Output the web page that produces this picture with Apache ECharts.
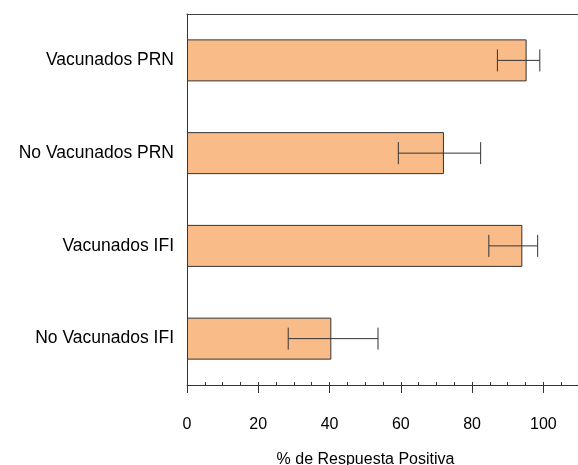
<!DOCTYPE html>
<html>
<head>
<meta charset="utf-8">
<script src="https://cdn.jsdelivr.net/npm/echarts@6/dist/echarts.min.js"></script>
<style>
  html, body { margin: 0; padding: 0; background: #fff; }
  #main { width: 578px; height: 465px; }
</style>
</head>
<body>
<div id="main"></div>
<script>
var categories = ['Vacunados PRN', 'No Vacunados PRN', 'Vacunados IFI', 'No Vacunados IFI']
var values = [95.3, 72.1, 94.1, 40.5]
var errLow = [87.1, 59.3, 84.7, 28.4]
var errHigh = [99.0, 82.4, 98.4, 53.6]

var font = 'Liberation Sans, Arial, Helvetica, sans-serif'

var errData = []
for (var i = 0; i < categories.length; i++) {
    errData.push([i, errLow[i], errHigh[i]])
}

var myChart = echarts.init(document.getElementById('main'))

var option = {
    animation: false,
    backgroundColor: '#fff',
    grid: { left: 187, right: -1, top: 14, bottom: 80, containLabel: false, outerBoundsMode: 'none' },
    xAxis: [{
        type: 'value', min: 0, max: 110, interval: 20, position: 'bottom',
        axisLine: { show: true, lineStyle: { color: '#333', width: 1 } },
        axisTick: { show: true, length: 8, lineStyle: { color: '#333' } },
        axisLabel: { fontSize: 16, color: '#000', margin: 32, fontFamily: font, showMaxLabel: false },
        splitLine: { show: false },
        name: '% de Respuesta Positiva',
        nameLocation: 'middle',
        nameGap: 67,
        nameTextStyle: { fontSize: 16, color: '#000', fontFamily: font, padding: [0, 35, 0, 0] }
    }, {
        type: 'value', min: 0, max: 110, interval: 5, position: 'bottom',
        axisLine: { show: false },
        axisTick: { show: true, inside: true, length: 3, lineStyle: { color: '#333' } },
        axisLabel: { show: false },
        splitLine: { show: false }
    }, {
        type: 'value', min: 0, max: 110, position: 'top',
        axisLine: { show: true, lineStyle: { color: '#444' } },
        axisTick: { show: false },
        axisLabel: { show: false },
        splitLine: { show: false }
    }],
    yAxis: {
        type: 'category',
        data: categories,
        inverse: true,
        axisLine: { show: true, lineStyle: { color: '#333' } },
        axisTick: { show: false },
        axisLabel: { fontSize: 17.5, color: '#000', margin: 13, fontFamily: font }
    },
    series: [{
        type: 'bar',
        data: values,
        barWidth: 42,
        itemStyle: { color: '#F9BC88', borderColor: '#333', borderWidth: 1 }
    }, {
        type: 'custom',
        data: errData,
        encode: { x: [1, 2], y: 0 },
        z: 5,
        renderItem: function (params, api) {
            var cat = api.value(0)
            var lo = api.coord([api.value(1), cat])
            var hi = api.coord([api.value(2), cat])
            var h = 11
            var st = { stroke: '#333', lineWidth: 1 }
            return {
                type: 'group',
                children: [
                    { type: 'line', shape: { x1: lo[0], y1: lo[1], x2: hi[0], y2: hi[1] }, style: st },
                    { type: 'line', shape: { x1: lo[0], y1: lo[1] - h, x2: lo[0], y2: lo[1] + h }, style: st },
                    { type: 'line', shape: { x1: hi[0], y1: hi[1] - h, x2: hi[0], y2: hi[1] + h }, style: st }
                ]
            }
        }
    }]
}

myChart.setOption(option)
</script>
</body>
</html>
